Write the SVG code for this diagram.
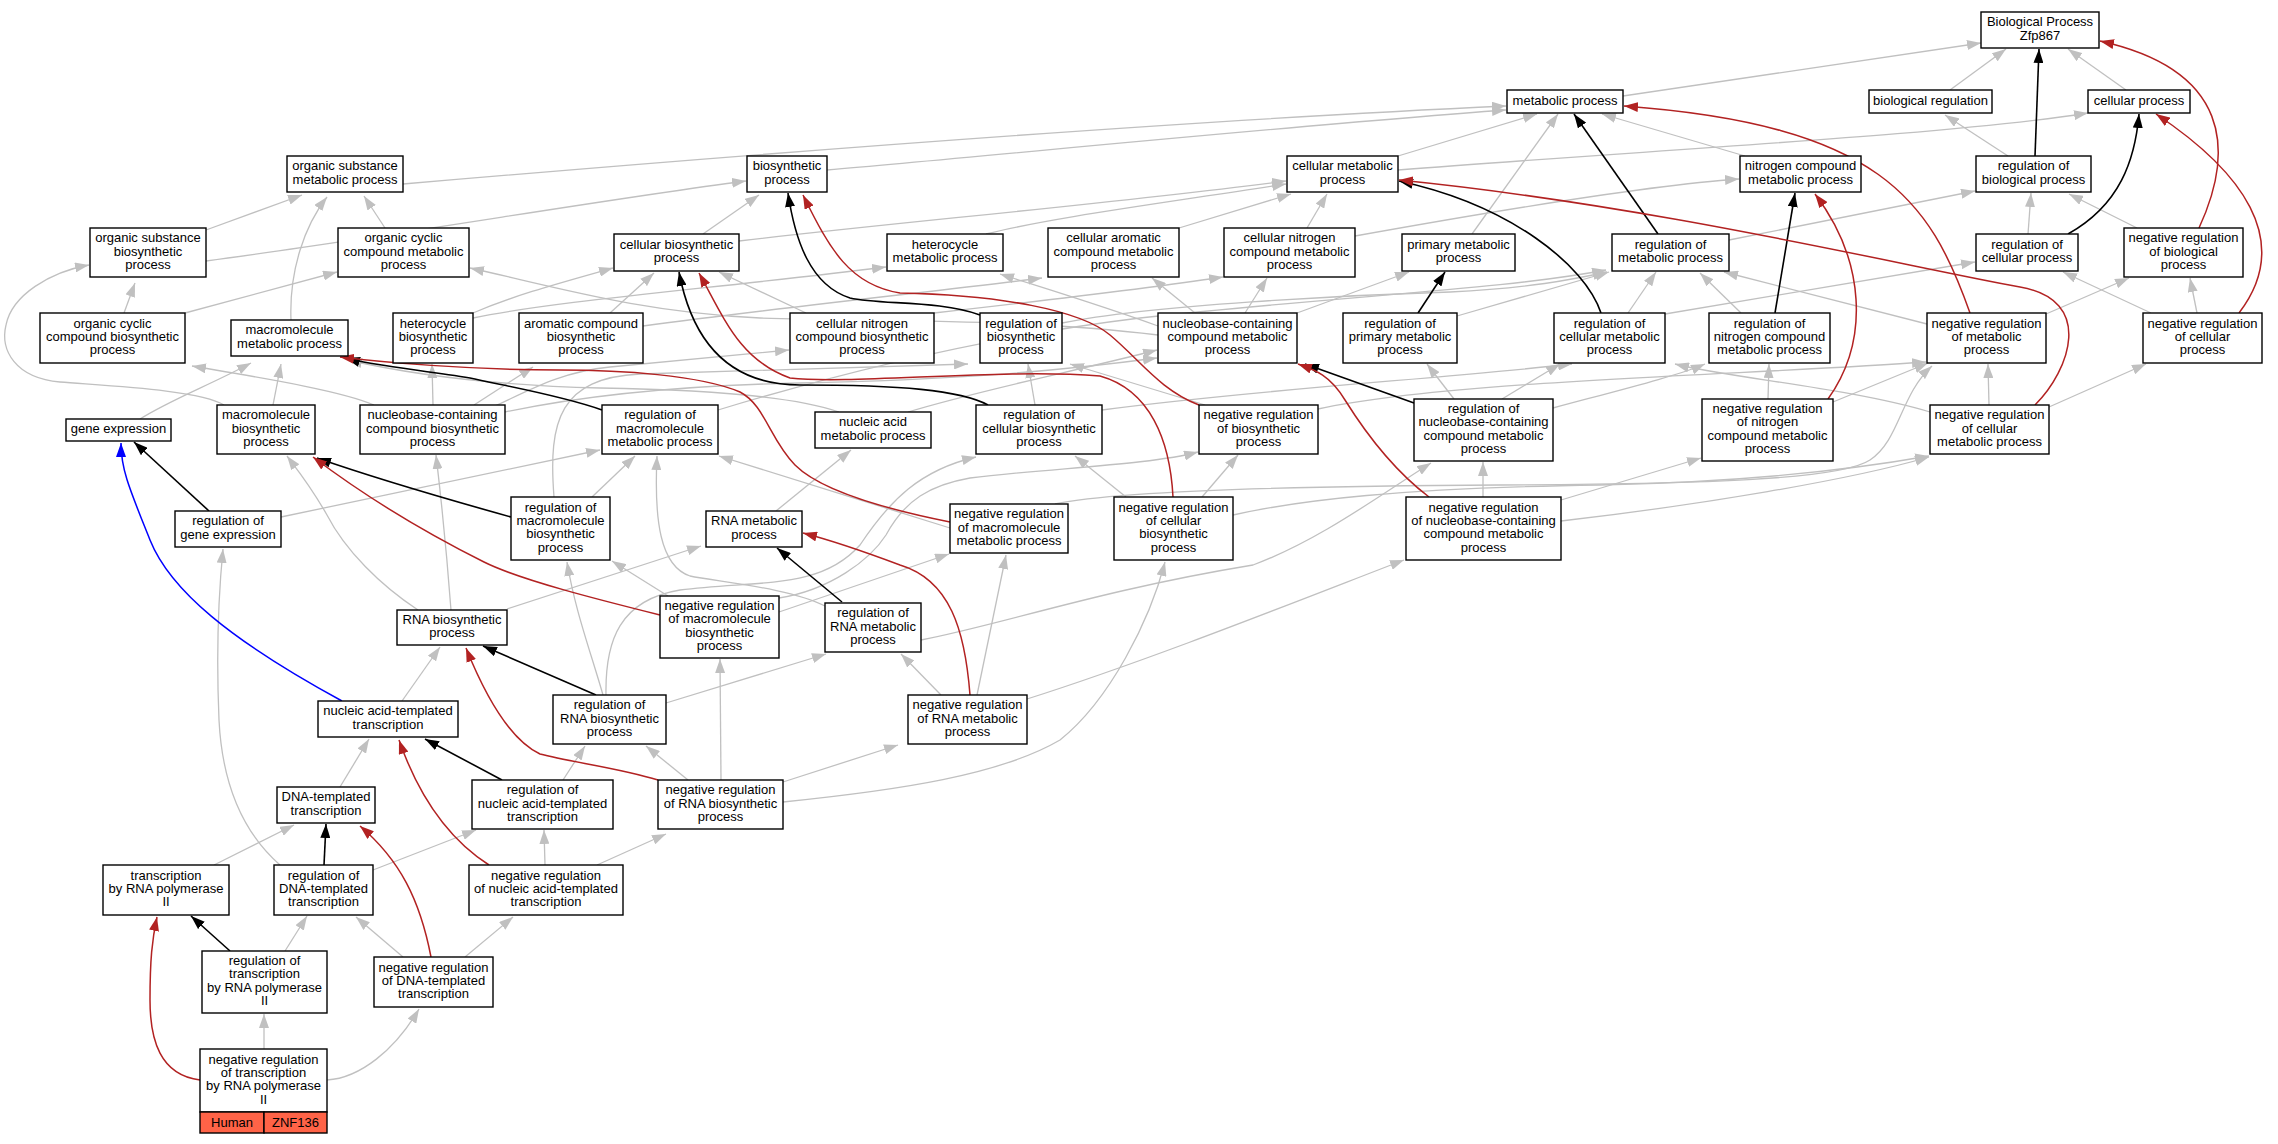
<svg xmlns="http://www.w3.org/2000/svg" width="2278" height="1144" viewBox="0 0 2278 1144">
<defs>
<style>
.n rect{fill:#fff;stroke:#000;stroke-width:1.4}
.t{font-family:"Liberation Sans",Arial,sans-serif;font-size:13px;text-anchor:middle;fill:#000}
.g{stroke:#c0c0c0;fill:none;stroke-width:1.3;marker-end:url(#ag)}
.k{stroke:#000;fill:none;stroke-width:1.6;marker-end:url(#ak)}
.r{stroke:#b22222;fill:none;stroke-width:1.5;marker-end:url(#ar)}
.b{stroke:#0000ff;fill:none;stroke-width:1.5;marker-end:url(#ab)}
</style>
<marker id="ag" markerUnits="userSpaceOnUse" markerWidth="14" markerHeight="10" refX="14" refY="5" orient="auto" viewBox="0 0 14 10"><path d="M0,0 L14,5 L0,10 z" fill="#c0c0c0"/></marker>
<marker id="ak" markerUnits="userSpaceOnUse" markerWidth="14" markerHeight="10" refX="14" refY="5" orient="auto" viewBox="0 0 14 10"><path d="M0,0 L14,5 L0,10 z" fill="#000"/></marker>
<marker id="ar" markerUnits="userSpaceOnUse" markerWidth="14" markerHeight="10" refX="14" refY="5" orient="auto" viewBox="0 0 14 10"><path d="M0,0 L14,5 L0,10 z" fill="#b22222"/></marker>
<marker id="ab" markerUnits="userSpaceOnUse" markerWidth="14" markerHeight="10" refX="14" refY="5" orient="auto" viewBox="0 0 14 10"><path d="M0,0 L14,5 L0,10 z" fill="#0000ff"/></marker>
</defs>
<rect width="2278" height="1144" fill="#fff"/>
<g id="connectors">
<path class="g" d="M1623,96 L1981,43"/>
<path class="g" d="M1950,90 L2006,49"/>
<path class="g" d="M2126,90 L2068,49"/>
<path class="g" d="M2008,156 L1945,115"/>
<path class="g" d="M2028,234 L2031,193"/>
<path class="g" d="M2137,228 L2069,194"/>
<path class="g" d="M2197,313 L2190,278"/>
<path class="g" d="M2151,313 L2063,272"/>
<path class="g" d="M1398,170 C1650,150 1950,135 2088,113"/>
<path class="g" d="M2046,314 L2129,278"/>
<path class="g" d="M1927,324 L1724,272"/>
<path class="g" d="M1729,240 L1975,191"/>
<path class="g" d="M1665,314 L1975,262"/>
<path class="g" d="M1628,313 L1656,272"/>
<path class="g" d="M1741,313 L1700,273"/>
<path class="g" d="M1768,399 L1769,364"/>
<path class="g" d="M1833,402 L1928,363"/>
<path class="g" d="M1989,405 L1988,364"/>
<path class="g" d="M2049,407 L2146,364"/>
<path class="g" d="M1930,412 C1850,388 1730,378 1675,364"/>
<path class="g" d="M1398,156 L1537,114"/>
<path class="g" d="M1472,234 L1558,114"/>
<path class="g" d="M1745,156 L1602,114"/>
<path class="g" d="M403,184 C800,150 1200,120 1506,106"/>
<path class="g" d="M827,170 C1000,155 1300,125 1506,110"/>
<path class="g" d="M206,230 L302,195"/>
<path class="g" d="M206,261 C400,235 600,200 746,181"/>
<path class="g" d="M385,228 L364,196"/>
<path class="g" d="M291,320 C289,270 305,225 327,197"/>
<path class="g" d="M124,313 L135,283"/>
<path class="g" d="M185,313 L337,272"/>
<path class="g" d="M224,405 C200,390 110,386 60,382 C15,378 0,350 6,325 C12,295 50,272 89,265"/>
<path class="g" d="M273,405 L281,364"/>
<path class="g" d="M140,419 C170,400 210,385 251,363"/>
<path class="g" d="M703,234 L759,195"/>
<path class="g" d="M739,241 C900,222 1100,205 1286,181"/>
<path class="g" d="M986,234 C1050,218 1150,205 1286,184"/>
<path class="g" d="M1179,228 L1291,194"/>
<path class="g" d="M1307,228 L1327,194"/>
<path class="g" d="M1355,236 C1500,210 1650,185 1739,179"/>
<path class="g" d="M1195,313 L1152,278"/>
<path class="g" d="M1245,313 L1267,278"/>
<path class="g" d="M1297,313 L1409,272"/>
<path class="g" d="M1158,326 C1100,305 1050,290 1000,274"/>
<path class="g" d="M1158,335 C1020,318 880,322 760,318 C640,312 560,288 470,268"/>
<path class="g" d="M806,313 L719,272"/>
<path class="g" d="M934,313 C1050,300 1150,288 1223,277"/>
<path class="g" d="M610,313 L654,273"/>
<path class="g" d="M643,326 C800,305 950,290 1042,278"/>
<path class="g" d="M473,313 C515,295 560,283 613,268"/>
<path class="g" d="M473,318 C560,300 720,288 886,267"/>
<path class="g" d="M433,405 L432,364"/>
<path class="g" d="M474,405 L533,367"/>
<path class="g" d="M374,405 C340,390 250,376 192,366"/>
<path class="g" d="M493,407 C530,390 560,372 610,367 L789,350"/>
<path class="g" d="M505,412 C600,392 700,385 800,383 C950,380 1050,372 1157,358"/>
<path class="g" d="M908,412 C980,390 1080,370 1157,350"/>
<path class="g" d="M839,412 C800,398 720,390 600,388 C480,385 400,372 348,360"/>
<path class="g" d="M776,511 L851,450"/>
<path class="g" d="M507,609 L701,546"/>
<path class="g" d="M451,610 C445,530 440,490 436,455"/>
<path class="g" d="M418,610 C380,585 345,550 327,515 C310,485 296,468 287,456"/>
<path class="g" d="M402,701 L440,647"/>
<path class="g" d="M340,787 L369,739"/>
<path class="g" d="M214,865 L294,825"/>
<path class="g" d="M285,951 L307,916"/>
<path class="g" d="M264,1049 L264,1014"/>
<path class="g" d="M327,1080 C360,1078 395,1050 419,1009"/>
<path class="g" d="M403,957 L356,917"/>
<path class="g" d="M465,957 L513,917"/>
<path class="g" d="M373,870 L476,830"/>
<path class="g" d="M280,865 C240,830 222,780 219,720 C216,650 218,600 223,549"/>
<path class="g" d="M545,865 L544,830"/>
<path class="g" d="M597,865 L666,834"/>
<path class="g" d="M563,780 L585,746"/>
<path class="g" d="M688,780 L646,746"/>
<path class="g" d="M721,780 L720,659"/>
<path class="g" d="M783,782 L898,745"/>
<path class="g" d="M783,802 C900,790 1000,775 1060,740 C1110,700 1150,620 1165,562"/>
<path class="g" d="M603,695 C590,650 575,610 567,562"/>
<path class="g" d="M666,703 L826,654"/>
<path class="g" d="M606,695 C605,640 620,600 680,590 C760,580 820,590 860,545 C890,500 920,470 976,457"/>
<path class="g" d="M825,606 C790,588 720,582 690,576 C660,566 654,520 657,456"/>
<path class="g" d="M921,640 C1000,625 1100,590 1253,565 C1320,540 1380,495 1431,463"/>
<path class="g" d="M941,695 L901,654"/>
<path class="g" d="M977,695 L1006,555"/>
<path class="g" d="M1027,699 C1150,660 1300,600 1404,560"/>
<path class="g" d="M668,596 L612,561"/>
<path class="g" d="M779,612 L949,554"/>
<path class="g" d="M779,598 C830,590 870,560 886,535 C905,500 930,485 970,478 C1050,468 1150,465 1198,452"/>
<path class="g" d="M950,528 L719,456"/>
<path class="g" d="M1055,504 C1120,490 1300,486 1500,485 C1700,484 1840,480 1870,460 C1900,440 1900,395 1932,366"/>
<path class="g" d="M718,410 C850,370 1000,335 1140,318 C1350,295 1500,290 1606,270"/>
<path class="g" d="M281,517 L600,450"/>
<path class="g" d="M592,497 L635,456"/>
<path class="g" d="M554,497 C548,420 560,378 640,374 L968,364"/>
<path class="g" d="M1035,405 L1028,364"/>
<path class="g" d="M1102,410 C1250,390 1450,378 1572,364"/>
<path class="g" d="M1205,405 L1070,364"/>
<path class="g" d="M1318,409 C1450,380 1750,375 1926,362"/>
<path class="g" d="M1202,497 L1238,455"/>
<path class="g" d="M1126,497 L1075,456"/>
<path class="g" d="M1233,515 C1300,500 1400,488 1600,485 C1750,482 1850,470 1929,456"/>
<path class="g" d="M1062,323 C1150,305 1350,295 1450,292 C1530,288 1570,280 1607,272"/>
<path class="g" d="M1457,316 L1609,272"/>
<path class="g" d="M1454,399 L1427,364"/>
<path class="g" d="M1502,399 L1560,364"/>
<path class="g" d="M1553,408 C1620,390 1680,375 1705,364"/>
<path class="g" d="M1483,497 L1483,462"/>
<path class="g" d="M1561,500 L1701,458"/>
<path class="g" d="M1561,521 C1700,505 1850,480 1929,457"/>
<path class="k" d="M2035,156 L2039,49"/>
<path class="k" d="M2068,234 C2120,205 2135,160 2139,114"/>
<path class="k" d="M1658,234 L1574,114"/>
<path class="k" d="M1601,313 C1585,265 1510,205 1399,181"/>
<path class="k" d="M1775,313 L1795,193"/>
<path class="k" d="M1418,313 L1445,272"/>
<path class="k" d="M1414,403 L1305,364"/>
<path class="k" d="M980,315 C940,300 880,305 850,298 C810,285 795,240 788,193"/>
<path class="k" d="M988,405 C960,390 900,385 800,385 C720,385 690,330 679,272"/>
<path class="k" d="M602,410 C560,395 500,385 470,378 C420,370 370,365 346,358"/>
<path class="k" d="M511,517 C450,500 380,480 317,458"/>
<path class="k" d="M209,511 L134,442"/>
<path class="k" d="M842,602 L777,548"/>
<path class="k" d="M596,695 L483,646"/>
<path class="k" d="M502,780 L425,739"/>
<path class="k" d="M324,865 L326,824"/>
<path class="k" d="M230,951 L191,916"/>
<path class="r" d="M2199,228 C2235,150 2230,70 2100,41"/>
<path class="r" d="M2239,313 C2295,240 2240,170 2156,114"/>
<path class="r" d="M1970,313 C1930,200 1880,125 1624,106"/>
<path class="r" d="M1828,399 C1870,340 1865,260 1815,194"/>
<path class="r" d="M2035,405 C2070,370 2095,300 2020,287 C1900,265 1650,205 1399,180"/>
<path class="r" d="M1429,497 C1400,475 1370,440 1345,400 C1330,375 1315,370 1298,364"/>
<path class="r" d="M1199,405 C1160,390 1140,360 1110,335 C1080,310 1000,295 900,293 C850,285 830,250 803,195"/>
<path class="r" d="M1173,497 C1170,440 1150,390 1100,376 C1000,368 850,385 790,378 C740,360 725,320 699,273"/>
<path class="r" d="M950,522 C880,508 820,490 795,465 C770,440 765,405 740,392 C700,375 620,370 560,370 C470,370 380,362 340,357"/>
<path class="r" d="M660,615 C600,600 520,580 484,562 C430,535 370,500 313,457"/>
<path class="r" d="M970,695 C965,630 950,580 900,565 C860,550 830,540 803,533"/>
<path class="r" d="M658,780 C620,768 570,762 540,754 C510,740 485,695 466,648"/>
<path class="r" d="M489,865 C450,840 420,800 399,740"/>
<path class="r" d="M431,957 C420,900 400,860 360,826"/>
<path class="r" d="M200,1080 C160,1075 150,1040 150,1000 C150,960 152,940 157,917"/>
<path class="b" d="M342,701 C230,640 170,590 150,540 C130,490 121,470 121,443"/>
</g>
<g id="BP" class="n"><rect x="1981" y="12" width="118" height="36"/><text class="t" x="2040" y="26.4">Biological Process<tspan x="2040" dy="13.3">Zfp867</tspan></text></g>
<g id="MP" class="n"><rect x="1507" y="90" width="116" height="23"/><text class="t" x="1565" y="104.5">metabolic process</text></g>
<g id="BR" class="n"><rect x="1869" y="90" width="123" height="23"/><text class="t" x="1930.5" y="104.5">biological regulation</text></g>
<g id="CP" class="n"><rect x="2088" y="90" width="102" height="23"/><text class="t" x="2139" y="104.5">cellular process</text></g>
<g id="OSMP" class="n"><rect x="287" y="156" width="116" height="36"/><text class="t" x="345" y="170.4">organic substance<tspan x="345" dy="13.3">metabolic process</tspan></text></g>
<g id="BSP" class="n"><rect x="747" y="156" width="80" height="36"/><text class="t" x="787" y="170.4">biosynthetic<tspan x="787" dy="13.3">process</tspan></text></g>
<g id="CMP" class="n"><rect x="1287" y="156" width="111" height="36"/><text class="t" x="1342.5" y="170.4">cellular metabolic<tspan x="1342.5" dy="13.3">process</tspan></text></g>
<g id="NCMP" class="n"><rect x="1740" y="156" width="121" height="36"/><text class="t" x="1800.5" y="170.4">nitrogen compound<tspan x="1800.5" dy="13.3">metabolic process</tspan></text></g>
<g id="RBP" class="n"><rect x="1976" y="156" width="115" height="36"/><text class="t" x="2033.5" y="170.4">regulation of<tspan x="2033.5" dy="13.3">biological process</tspan></text></g>
<g id="OSBP" class="n"><rect x="90" y="228" width="116" height="49"/><text class="t" x="148" y="242.2">organic substance<tspan x="148" dy="13.3">biosynthetic</tspan><tspan x="148" dy="13.3">process</tspan></text></g>
<g id="OCCMP" class="n"><rect x="338" y="228" width="131" height="49"/><text class="t" x="403.5" y="242.2">organic cyclic<tspan x="403.5" dy="13.3">compound metabolic</tspan><tspan x="403.5" dy="13.3">process</tspan></text></g>
<g id="CBP" class="n"><rect x="614" y="234" width="125" height="37"/><text class="t" x="676.5" y="248.9">cellular biosynthetic<tspan x="676.5" dy="13.3">process</tspan></text></g>
<g id="HMP" class="n"><rect x="887" y="234" width="116" height="37"/><text class="t" x="945" y="248.9">heterocycle<tspan x="945" dy="13.3">metabolic process</tspan></text></g>
<g id="CACMP" class="n"><rect x="1048" y="228" width="131" height="49"/><text class="t" x="1113.5" y="242.2">cellular aromatic<tspan x="1113.5" dy="13.3">compound metabolic</tspan><tspan x="1113.5" dy="13.3">process</tspan></text></g>
<g id="CNCMP" class="n"><rect x="1224" y="228" width="131" height="49"/><text class="t" x="1289.5" y="242.2">cellular nitrogen<tspan x="1289.5" dy="13.3">compound metabolic</tspan><tspan x="1289.5" dy="13.3">process</tspan></text></g>
<g id="PMP" class="n"><rect x="1402" y="234" width="113" height="37"/><text class="t" x="1458.5" y="248.9">primary metabolic<tspan x="1458.5" dy="13.3">process</tspan></text></g>
<g id="RMP" class="n"><rect x="1612" y="234" width="117" height="37"/><text class="t" x="1670.5" y="248.9">regulation of<tspan x="1670.5" dy="13.3">metabolic process</tspan></text></g>
<g id="RCP" class="n"><rect x="1976" y="234" width="102" height="37"/><text class="t" x="2027" y="248.9">regulation of<tspan x="2027" dy="13.3">cellular process</tspan></text></g>
<g id="NRBP" class="n"><rect x="2124" y="228" width="119" height="49"/><text class="t" x="2183.5" y="242.2">negative regulation<tspan x="2183.5" dy="13.3">of biological</tspan><tspan x="2183.5" dy="13.3">process</tspan></text></g>
<g id="OCCBP" class="n"><rect x="40" y="313" width="145" height="50"/><text class="t" x="112.5" y="327.7">organic cyclic<tspan x="112.5" dy="13.3">compound biosynthetic</tspan><tspan x="112.5" dy="13.3">process</tspan></text></g>
<g id="MMP" class="n"><rect x="231" y="320" width="117" height="36"/><text class="t" x="289.5" y="334.4">macromolecule<tspan x="289.5" dy="13.3">metabolic process</tspan></text></g>
<g id="HBP" class="n"><rect x="393" y="313" width="80" height="50"/><text class="t" x="433" y="327.7">heterocycle<tspan x="433" dy="13.3">biosynthetic</tspan><tspan x="433" dy="13.3">process</tspan></text></g>
<g id="ACBP" class="n"><rect x="519" y="313" width="124" height="50"/><text class="t" x="581" y="327.7">aromatic compound<tspan x="581" dy="13.3">biosynthetic</tspan><tspan x="581" dy="13.3">process</tspan></text></g>
<g id="CNCBP" class="n"><rect x="790" y="313" width="144" height="50"/><text class="t" x="862" y="327.7">cellular nitrogen<tspan x="862" dy="13.3">compound biosynthetic</tspan><tspan x="862" dy="13.3">process</tspan></text></g>
<g id="RBSP" class="n"><rect x="980" y="313" width="82" height="50"/><text class="t" x="1021" y="327.7">regulation of<tspan x="1021" dy="13.3">biosynthetic</tspan><tspan x="1021" dy="13.3">process</tspan></text></g>
<g id="NCCMP" class="n"><rect x="1158" y="313" width="139" height="50"/><text class="t" x="1227.5" y="327.7">nucleobase-containing<tspan x="1227.5" dy="13.3">compound metabolic</tspan><tspan x="1227.5" dy="13.3">process</tspan></text></g>
<g id="RPMP" class="n"><rect x="1343" y="313" width="114" height="50"/><text class="t" x="1400" y="327.7">regulation of<tspan x="1400" dy="13.3">primary metabolic</tspan><tspan x="1400" dy="13.3">process</tspan></text></g>
<g id="RCMP" class="n"><rect x="1554" y="313" width="111" height="50"/><text class="t" x="1609.5" y="327.7">regulation of<tspan x="1609.5" dy="13.3">cellular metabolic</tspan><tspan x="1609.5" dy="13.3">process</tspan></text></g>
<g id="RNCMP" class="n"><rect x="1709" y="313" width="121" height="50"/><text class="t" x="1769.5" y="327.7">regulation of<tspan x="1769.5" dy="13.3">nitrogen compound</tspan><tspan x="1769.5" dy="13.3">metabolic process</tspan></text></g>
<g id="NRMP" class="n"><rect x="1927" y="313" width="119" height="50"/><text class="t" x="1986.5" y="327.7">negative regulation<tspan x="1986.5" dy="13.3">of metabolic</tspan><tspan x="1986.5" dy="13.3">process</tspan></text></g>
<g id="NRCP" class="n"><rect x="2143" y="313" width="119" height="50"/><text class="t" x="2202.5" y="327.7">negative regulation<tspan x="2202.5" dy="13.3">of cellular</tspan><tspan x="2202.5" dy="13.3">process</tspan></text></g>
<g id="GE" class="n"><rect x="66" y="419" width="105" height="22"/><text class="t" x="118.5" y="433">gene expression</text></g>
<g id="MBP" class="n"><rect x="217" y="405" width="98" height="49"/><text class="t" x="266" y="419.2">macromolecule<tspan x="266" dy="13.3">biosynthetic</tspan><tspan x="266" dy="13.3">process</tspan></text></g>
<g id="NCCBP" class="n"><rect x="360" y="405" width="145" height="49"/><text class="t" x="432.5" y="419.2">nucleobase-containing<tspan x="432.5" dy="13.3">compound biosynthetic</tspan><tspan x="432.5" dy="13.3">process</tspan></text></g>
<g id="RMMP" class="n"><rect x="602" y="405" width="116" height="49"/><text class="t" x="660" y="419.2">regulation of<tspan x="660" dy="13.3">macromolecule</tspan><tspan x="660" dy="13.3">metabolic process</tspan></text></g>
<g id="NAMP" class="n"><rect x="815" y="412" width="116" height="36"/><text class="t" x="873" y="426.4">nucleic acid<tspan x="873" dy="13.3">metabolic process</tspan></text></g>
<g id="RCBP" class="n"><rect x="976" y="405" width="126" height="49"/><text class="t" x="1039" y="419.2">regulation of<tspan x="1039" dy="13.3">cellular biosynthetic</tspan><tspan x="1039" dy="13.3">process</tspan></text></g>
<g id="NRBSP" class="n"><rect x="1199" y="405" width="119" height="49"/><text class="t" x="1258.5" y="419.2">negative regulation<tspan x="1258.5" dy="13.3">of biosynthetic</tspan><tspan x="1258.5" dy="13.3">process</tspan></text></g>
<g id="RNCCMP" class="n"><rect x="1414" y="399" width="139" height="62"/><text class="t" x="1483.5" y="413">regulation of<tspan x="1483.5" dy="13.3">nucleobase-containing</tspan><tspan x="1483.5" dy="13.3">compound metabolic</tspan><tspan x="1483.5" dy="13.3">process</tspan></text></g>
<g id="NRNCMP" class="n"><rect x="1702" y="399" width="131" height="62"/><text class="t" x="1767.5" y="413">negative regulation<tspan x="1767.5" dy="13.3">of nitrogen</tspan><tspan x="1767.5" dy="13.3">compound metabolic</tspan><tspan x="1767.5" dy="13.3">process</tspan></text></g>
<g id="NRCMP" class="n"><rect x="1930" y="405" width="119" height="49"/><text class="t" x="1989.5" y="419.2">negative regulation<tspan x="1989.5" dy="13.3">of cellular</tspan><tspan x="1989.5" dy="13.3">metabolic process</tspan></text></g>
<g id="RGE" class="n"><rect x="175" y="511" width="106" height="36"/><text class="t" x="228" y="525.4">regulation of<tspan x="228" dy="13.3">gene expression</tspan></text></g>
<g id="RMBP" class="n"><rect x="511" y="497" width="99" height="63"/><text class="t" x="560.5" y="511.6">regulation of<tspan x="560.5" dy="13.3">macromolecule</tspan><tspan x="560.5" dy="13.3">biosynthetic</tspan><tspan x="560.5" dy="13.3">process</tspan></text></g>
<g id="RNAMP" class="n"><rect x="706" y="511" width="96" height="36"/><text class="t" x="754" y="525.4">RNA metabolic<tspan x="754" dy="13.3">process</tspan></text></g>
<g id="NRMMP" class="n"><rect x="950" y="504" width="118" height="49"/><text class="t" x="1009" y="518.2">negative regulation<tspan x="1009" dy="13.3">of macromolecule</tspan><tspan x="1009" dy="13.3">metabolic process</tspan></text></g>
<g id="NRCBP" class="n"><rect x="1114" y="497" width="119" height="63"/><text class="t" x="1173.5" y="511.6">negative regulation<tspan x="1173.5" dy="13.3">of cellular</tspan><tspan x="1173.5" dy="13.3">biosynthetic</tspan><tspan x="1173.5" dy="13.3">process</tspan></text></g>
<g id="NRNCCMP" class="n"><rect x="1406" y="497" width="155" height="63"/><text class="t" x="1483.5" y="511.6">negative regulation<tspan x="1483.5" dy="13.3">of nucleobase-containing</tspan><tspan x="1483.5" dy="13.3">compound metabolic</tspan><tspan x="1483.5" dy="13.3">process</tspan></text></g>
<g id="RNABP" class="n"><rect x="397" y="610" width="110" height="35"/><text class="t" x="452" y="623.9">RNA biosynthetic<tspan x="452" dy="13.3">process</tspan></text></g>
<g id="NRMBP" class="n"><rect x="660" y="596" width="119" height="62"/><text class="t" x="719.5" y="610">negative regulation<tspan x="719.5" dy="13.3">of macromolecule</tspan><tspan x="719.5" dy="13.3">biosynthetic</tspan><tspan x="719.5" dy="13.3">process</tspan></text></g>
<g id="RRNAMP" class="n"><rect x="825" y="603" width="96" height="49"/><text class="t" x="873" y="617.2">regulation of<tspan x="873" dy="13.3">RNA metabolic</tspan><tspan x="873" dy="13.3">process</tspan></text></g>
<g id="NAT" class="n"><rect x="318" y="701" width="140" height="36"/><text class="t" x="388" y="715.4">nucleic acid-templated<tspan x="388" dy="13.3">transcription</tspan></text></g>
<g id="RRNABP" class="n"><rect x="553" y="695" width="113" height="49"/><text class="t" x="609.5" y="709.2">regulation of<tspan x="609.5" dy="13.3">RNA biosynthetic</tspan><tspan x="609.5" dy="13.3">process</tspan></text></g>
<g id="NRRNAMP" class="n"><rect x="908" y="695" width="119" height="49"/><text class="t" x="967.5" y="709.2">negative regulation<tspan x="967.5" dy="13.3">of RNA metabolic</tspan><tspan x="967.5" dy="13.3">process</tspan></text></g>
<g id="DT" class="n"><rect x="277" y="787" width="98" height="36"/><text class="t" x="326" y="801.4">DNA-templated<tspan x="326" dy="13.3">transcription</tspan></text></g>
<g id="RNAT" class="n"><rect x="472" y="780" width="141" height="49"/><text class="t" x="542.5" y="794.2">regulation of<tspan x="542.5" dy="13.3">nucleic acid-templated</tspan><tspan x="542.5" dy="13.3">transcription</tspan></text></g>
<g id="NRRNABP" class="n"><rect x="658" y="780" width="125" height="49"/><text class="t" x="720.5" y="794.2">negative regulation<tspan x="720.5" dy="13.3">of RNA biosynthetic</tspan><tspan x="720.5" dy="13.3">process</tspan></text></g>
<g id="TRP" class="n"><rect x="103" y="865" width="126" height="50"/><text class="t" x="166" y="879.7">transcription<tspan x="166" dy="13.3">by RNA polymerase</tspan><tspan x="166" dy="13.3">II</tspan></text></g>
<g id="RDT" class="n"><rect x="274" y="865" width="99" height="50"/><text class="t" x="323.5" y="879.7">regulation of<tspan x="323.5" dy="13.3">DNA-templated</tspan><tspan x="323.5" dy="13.3">transcription</tspan></text></g>
<g id="NRNAT" class="n"><rect x="469" y="865" width="154" height="50"/><text class="t" x="546" y="879.7">negative regulation<tspan x="546" dy="13.3">of nucleic acid-templated</tspan><tspan x="546" dy="13.3">transcription</tspan></text></g>
<g id="RTRP" class="n"><rect x="202" y="951" width="125" height="62"/><text class="t" x="264.5" y="965">regulation of<tspan x="264.5" dy="13.3">transcription</tspan><tspan x="264.5" dy="13.3">by RNA polymerase</tspan><tspan x="264.5" dy="13.3">II</tspan></text></g>
<g id="NRDT" class="n"><rect x="374" y="957" width="119" height="50"/><text class="t" x="433.5" y="971.7">negative regulation<tspan x="433.5" dy="13.3">of DNA-templated</tspan><tspan x="433.5" dy="13.3">transcription</tspan></text></g>
<g id="NRTRP" class="n"><rect x="200" y="1049" width="127" height="63"/><text class="t" x="263.5" y="1063.6">negative regulation<tspan x="263.5" dy="13.3">of transcription</tspan><tspan x="263.5" dy="13.3">by RNA polymerase</tspan><tspan x="263.5" dy="13.3">II</tspan></text><rect x="200" y="1112" width="64" height="21" style="fill:#ff6347"/><rect x="264" y="1112" width="63" height="21" style="fill:#ff6347"/><text class="t" x="232" y="1127">Human</text><text class="t" x="295.5" y="1127">ZNF136</text></g>
</svg>
